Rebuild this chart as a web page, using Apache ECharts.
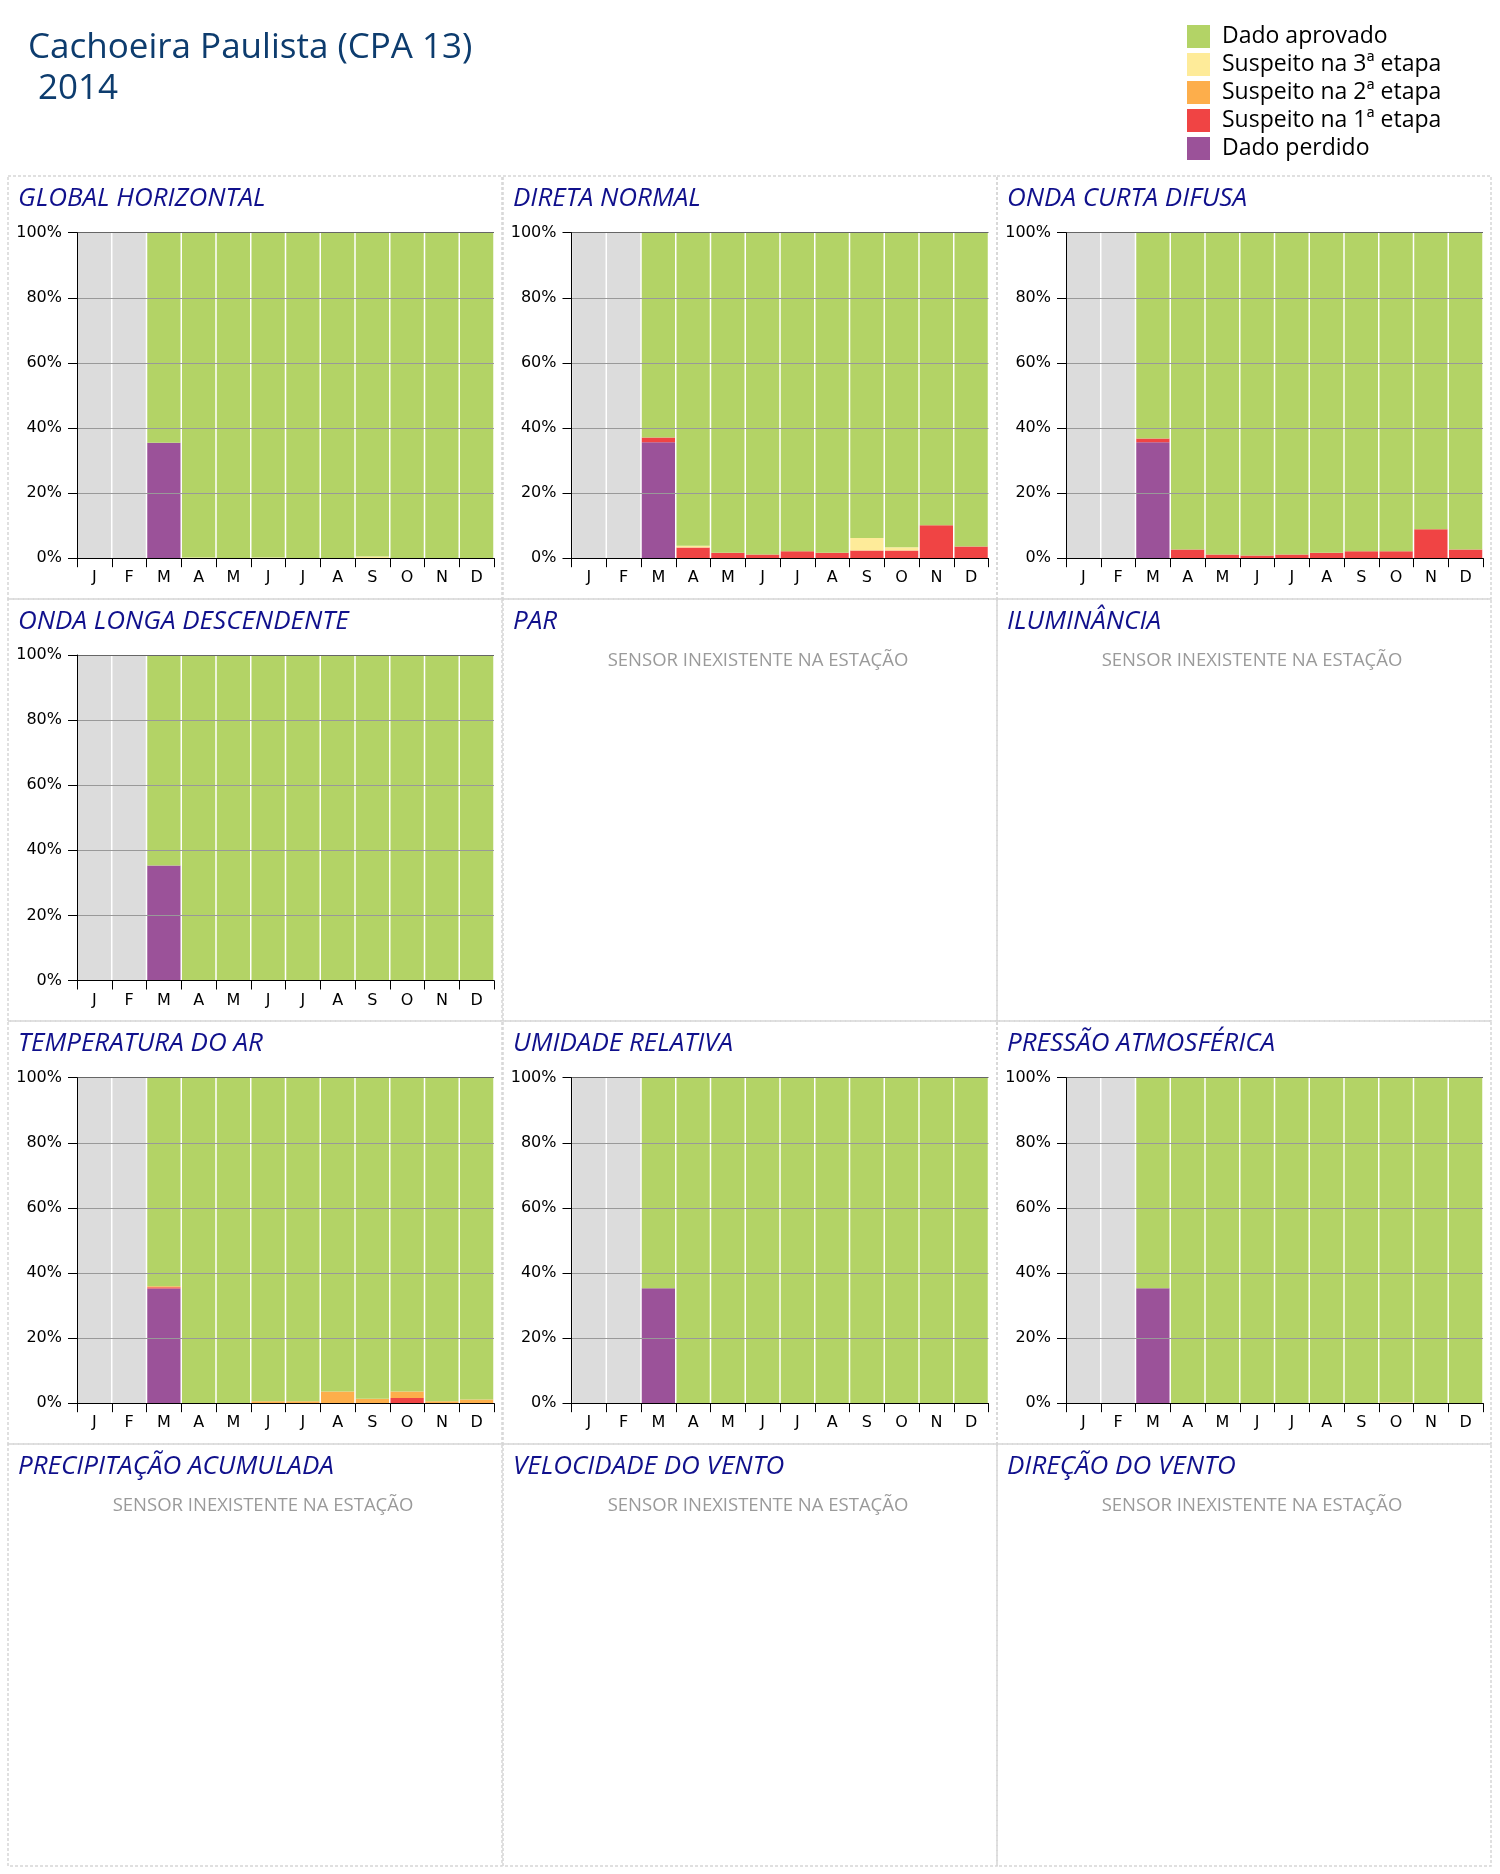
<!DOCTYPE html>
<html><head><meta charset="utf-8">
<script src="https://cdn.jsdelivr.net/npm/echarts@6/dist/echarts.min.js"></script>
<style>html,body{margin:0;padding:0;background:#fff}#c{width:1500px;height:1874px}</style>
</head><body><div id="c"></div><script>
// ---------- DATA ----------
const months = ['J','F','M','A','M','J','J','A','S','O','N','D'];
const yTickValues = [0, 20, 40, 60, 80, 100];
const semDados = [100,100,null,null,null,null,null,null,null,null,null,null];

// Global horizontal
const ghPerdido  = [null,null,35.5,0,0,0,0,0,0,0,0,0];
const ghSusp1    = [null,null,0,0,0,0,0,0,0,0,0,0];
const ghSusp2    = [null,null,0,0,0,0,0,0,0,0,0,0];
const ghSusp3    = [null,null,0,0.2,0,0.2,0,0,0.5,0,0,0];
const ghAprovado = [null,null,64.5,99.8,100,99.8,100,100,99.5,100,100,100];

// Direta normal
const dnPerdido  = [null,null,35.6,0,0,0,0,0,0,0,0,0];
const dnSusp1    = [null,null,1.5,3.3,1.7,1.1,2.1,1.7,2.4,2.4,10.1,3.6];
const dnSusp2    = [null,null,0,0,0,0,0,0,0,0,0,0];
const dnSusp3    = [null,null,0,0.5,0,0,0,0,3.8,1.0,0,0];
const dnAprovado = [null,null,62.9,96.2,98.3,98.9,97.9,98.3,93.8,96.6,89.9,96.4];

// Onda curta difusa
const ocPerdido  = [null,null,35.6,0,0,0,0,0,0,0,0,0];
const ocSusp1    = [null,null,1.2,2.7,1.1,0.8,1.1,1.7,2.1,2.1,8.9,2.7];
const ocSusp2    = [null,null,0,0,0,0,0,0,0,0,0,0];
const ocSusp3    = [null,null,0,0,0,0,0,0,0,0,0,0];
const ocAprovado = [null,null,63.2,97.3,98.9,99.2,98.9,98.3,97.9,97.9,91.1,97.3];

// Onda longa descendente
const olPerdido  = [null,null,35.3,0,0,0,0,0,0,0,0,0];
const olSusp1    = [null,null,0,0,0,0,0,0,0,0,0,0];
const olSusp2    = [null,null,0,0,0,0,0,0,0,0,0,0];
const olSusp3    = [null,null,0,0,0,0,0,0,0,0,0,0];
const olAprovado = [null,null,64.7,100,100,100,100,100,100,100,100,100];

// Temperatura do ar
const taPerdido  = [null,null,35.2,0,0,0,0,0,0,0,0,0];
const taSusp1    = [null,null,0.4,0,0,0,0,0,0,1.6,0,0];
const taSusp2    = [null,null,0.3,0,0,0.6,0.6,3.6,1.4,2.0,0.6,1.1];
const taSusp3    = [null,null,0,0,0,0,0,0,0,0,0,0];
const taAprovado = [null,null,64.1,100,100,99.4,99.4,96.4,98.6,96.4,99.4,98.9];

// Umidade relativa
const urPerdido  = [null,null,35.3,0,0,0,0,0,0,0,0,0];
const urSusp1    = [null,null,0,0,0,0,0,0,0,0,0,0];
const urSusp2    = [null,null,0,0,0,0,0,0,0,0,0,0];
const urSusp3    = [null,null,0,0,0,0,0,0,0,0,0,0];
const urAprovado = [null,null,64.7,100,100,100,100,100,100,100,100,100];

// Pressão atmosférica
const paPerdido  = [null,null,35.3,0,0,0,0,0,0,0,0,0];
const paSusp1    = [null,null,0,0,0,0,0,0,0,0,0,0];
const paSusp2    = [null,null,0,0,0,0,0,0,0,0.2,0,0];
const paSusp3    = [null,null,0,0,0,0,0,0,0,0,0,0];
const paAprovado = [null,null,64.7,100,100,100,100,100,100,99.8,100,100];

const stationTitle = 'Cachoeira Paulista (CPA 13)';
const yearTitle = '2014';
const missingText = 'SENSOR INEXISTENTE NA ESTAÇÃO';

// ---------- LAYOUT / STYLE ----------
const panelX = [8, 503, 997];
const panelW = 494;
const panelY = [176, 599, 1021, 1444, 1866];
const plotLeft = [77, 571.5, 1066];
const plotTop = [232.7, 655, 1077.7];
const plotW = 417, plotH = 325.5;

const seriesDefs = [
  {name: 'Sem dados', color: '#dcdcdc'},
  {name: 'Dado perdido', color: '#9b5299'},
  {name: 'Suspeito na 1ª etapa', color: '#f04444'},
  {name: 'Suspeito na 2ª etapa', color: '#fdae4b'},
  {name: 'Suspeito na 3ª etapa', color: '#feeb99'},
  {name: 'Dado aprovado', color: '#b3d366'}
];

const panels = [
  {title: 'GLOBAL HORIZONTAL', c: 0, r: 0, d: [ghPerdido, ghSusp1, ghSusp2, ghSusp3, ghAprovado]},
  {title: 'DIRETA NORMAL', c: 1, r: 0, d: [dnPerdido, dnSusp1, dnSusp2, dnSusp3, dnAprovado]},
  {title: 'ONDA CURTA DIFUSA', c: 2, r: 0, d: [ocPerdido, ocSusp1, ocSusp2, ocSusp3, ocAprovado]},
  {title: 'ONDA LONGA DESCENDENTE', c: 0, r: 1, d: [olPerdido, olSusp1, olSusp2, olSusp3, olAprovado]},
  {title: 'PAR', c: 1, r: 1, d: null},
  {title: 'ILUMINÂNCIA', c: 2, r: 1, d: null},
  {title: 'TEMPERATURA DO AR', c: 0, r: 2, d: [taPerdido, taSusp1, taSusp2, taSusp3, taAprovado]},
  {title: 'UMIDADE RELATIVA', c: 1, r: 2, d: [urPerdido, urSusp1, urSusp2, urSusp3, urAprovado]},
  {title: 'PRESSÃO ATMOSFÉRICA', c: 2, r: 2, d: [paPerdido, paSusp1, paSusp2, paSusp3, paAprovado]},
  {title: 'PRECIPITAÇÃO ACUMULADA', c: 0, r: 3, d: null},
  {title: 'VELOCIDADE DO VENTO', c: 1, r: 3, d: null},
  {title: 'DIREÇÃO DO VENTO', c: 2, r: 3, d: null}
];

const grids = [], xAxes = [], yAxes = [], series = [], graphics = [];
const axisFont = 'DejaVu Sans';
const uiFont = 'Open Sans';

// page title
graphics.push({type: 'text', x: 28, y: 48, style: {text: stationTitle, font: '35px "Open Sans"', fill: '#0d3c6e', verticalAlign: 'middle'}});
graphics.push({type: 'text', x: 38, y: 89, style: {text: yearTitle, font: '35px "Open Sans"', fill: '#0d3c6e', verticalAlign: 'middle'}});

panels.forEach(p => {
  const px = panelX[p.c], py = panelY[p.r];
  const ph = panelY[p.r + 1] - py;
  graphics.push({type: 'rect', shape: {x: px, y: py, width: panelW, height: ph}, z: -10,
    style: {fill: 'none', stroke: '#d6d6d6', lineWidth: 1.5, lineDash: [3, 2]}});
  graphics.push({type: 'text', x: px + 10, y: py + 23, z: 20,
    style: {text: p.title, font: 'italic 26px "Open Sans"', fill: '#10108c', verticalAlign: 'middle'}});
  if (!p.d) {
    graphics.push({type: 'text', x: px + panelW / 2 + 8, y: py + 62, z: 20,
      style: {text: missingText, font: '18.5px "Open Sans"', fill: '#9a9a9a', align: 'center', verticalAlign: 'middle'}});
    return;
  }
  const gi = grids.length;
  grids.push({left: plotLeft[p.c], top: plotTop[p.r], width: plotW, height: plotH, containLabel: false});
  xAxes.push({
    type: 'category', gridIndex: gi, data: months, z: 10,
    axisLine: {lineStyle: {color: '#000', width: 1}},
    axisTick: {show: true, length: 9, lineStyle: {color: '#000'}},
    axisLabel: {margin: 12, fontFamily: axisFont, fontSize: 16, color: '#000'},
    splitLine: {show: false}
  });
  yAxes.push({
    type: 'value', gridIndex: gi, min: 0, max: 100, interval: 20, z: 10,
    axisLine: {show: true, lineStyle: {color: '#000', width: 1}},
    axisTick: {show: true, length: 9, lineStyle: {color: '#000'}},
    axisLabel: {margin: 15, fontFamily: axisFont, fontSize: 16, color: '#000',
      formatter: v => yTickValues.includes(v) ? v + '%' : ''},
    splitLine: {show: true, lineStyle: {color: ['#999', '#999', '#999', '#999', '#999', '#666'], width: 1}}
  });
  const sets = [semDados].concat(p.d);
  sets.forEach((arr, k) => {
    series.push({
      type: 'bar', name: seriesDefs[k].name, xAxisIndex: gi, yAxisIndex: gi,
      stack: 'st' + gi, barCategoryGap: 1.5, barGap: '0%',
      data: arr.map(v => (v === 0 ? null : v)),
      itemStyle: {color: seriesDefs[k].color, borderWidth: 0},
      silent: true, animation: false
    });
  });
});

const chart = echarts.init(document.getElementById('c'), null, {renderer: 'canvas'});
chart.setOption({
  animation: false,
  backgroundColor: '#fff',
  grid: grids, xAxis: xAxes, yAxis: yAxes, series: series,
  legend: {
    show: true, orient: 'vertical', left: 1182, top: 20, itemWidth: 23, itemHeight: 23, itemGap: 5,
    icon: 'rect', selectedMode: false,
    data: ['Dado aprovado', 'Suspeito na 3ª etapa', 'Suspeito na 2ª etapa', 'Suspeito na 1ª etapa', 'Dado perdido'],
    textStyle: {fontFamily: uiFont, fontSize: 23, lineHeight: 23, color: '#000', padding: [0, 0, 0, 7]}
  },
  graphic: graphics
});
</script></body></html>
